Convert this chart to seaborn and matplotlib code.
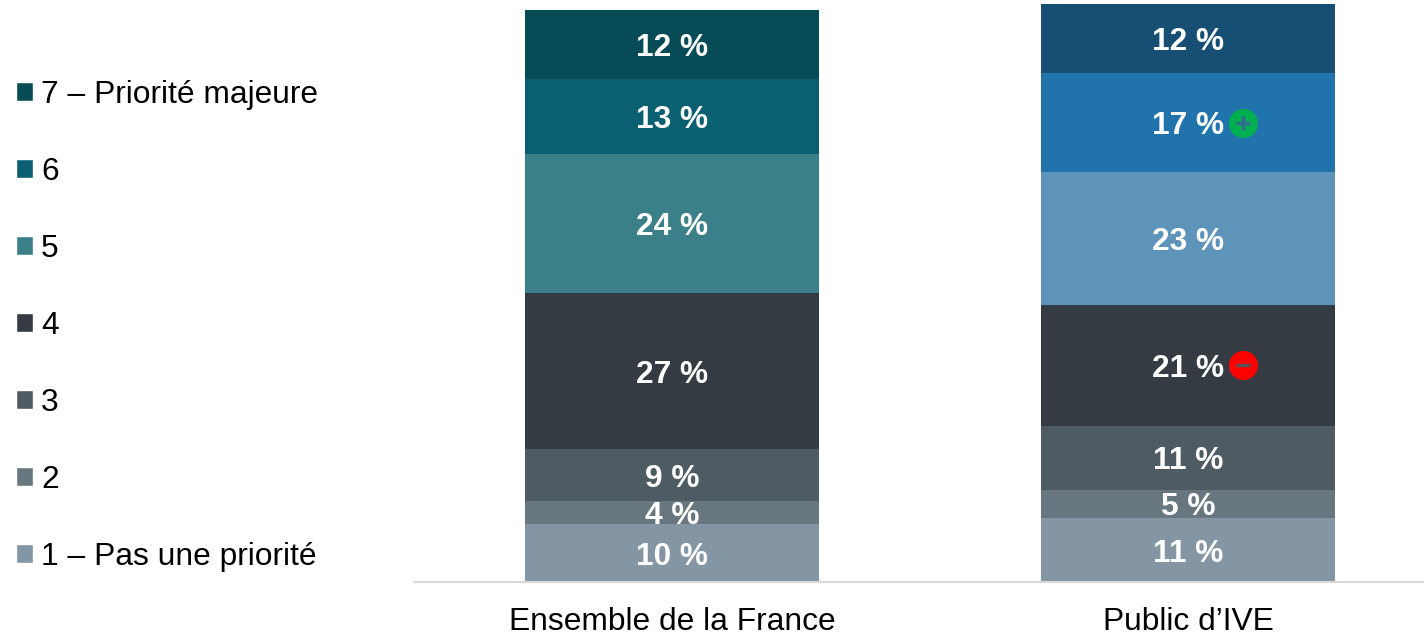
import pandas as pd
import matplotlib
matplotlib.use("Agg")
import matplotlib.pyplot as plt
import seaborn as sns
from matplotlib.patches import Patch

# Data, lowest level first
groups = ["Ensemble de la France", "Public d’IVE"]
levels = ["1 – Pas une priorité", "2", "3", "4", "5", "6", "7 – Priorité majeure"]
france_values = [10, 4, 9, 27, 24, 13, 12]
ive_values = [11, 5, 11, 21, 23, 17, 12]

france_colors = ["#8496A4", "#68777F", "#4F5B63", "#353B42", "#3B7F88", "#0A5F70", "#074B56"]
ive_colors = ["#8496A4", "#68777F", "#4F5B63", "#353B42", "#5E94B9", "#2073AB", "#164E74"]

# Significance badges: group, level, sign
badges = [("Public d’IVE", "6", "+"), ("Public d’IVE", "4", "-")]

sns.set_theme(style="white")
plt.rcParams["font.family"] = ["Liberation Sans", "DejaVu Sans"]

# Build long table with the cumulative top of every segment
df = pd.DataFrame({
    "group": [groups[0]] * len(levels) + [groups[1]] * len(levels),
    "level": levels * 2,
    "value": france_values + ive_values,
})
df["top"] = df.groupby("group")["value"].cumsum()
df["middle"] = df["top"] - df["value"] / 2

fig = plt.figure(figsize=(14.24, 6.35), dpi=100)
ax = fig.add_axes([414 / 1424, 53 / 635, 1010 / 1424, 582 / 635])

# Stack by overdrawing cumulative bars, tallest first
for i in reversed(range(len(levels))):
    sub = df[df["level"] == levels[i]]
    sns.barplot(
        data=sub, x="group", y="top", hue="group", order=groups, hue_order=groups,
        palette={groups[0]: france_colors[i], groups[1]: ive_colors[i]},
        dodge=False, width=0.57, saturation=1, legend=False, linewidth=0, ax=ax,
    )

ax.set_xlim(-0.5, 1.457)
ax.set_ylim(0, 100.7)
ax.set_xlabel("")
ax.set_ylabel("")
ax.set_yticks([])
ax.tick_params(axis="x", length=0, pad=18, labelsize=22.9, labelcolor="black")

sns.despine(ax=ax, left=True)
ax.spines["bottom"].set_color("#D9D9D9")
ax.spines["bottom"].set_linewidth(1.5)

# Value labels
for _, row in df.iterrows():
    ax.annotate(
        f"{row['value']} %", (groups.index(row["group"]), row["middle"]),
        xytext=(0, -2.5), textcoords="offset points", ha="center", va="center",
        color="white", fontsize=22.8, fontweight="bold",
    )

# Plus and minus badges beside the labels
for group, level, sign in badges:
    row = df[(df["group"] == group) & (df["level"] == level)].iloc[0]
    x = groups.index(group) + 55 / 516
    y = row["middle"]
    ax.scatter([x], [y], s=440, color="#00B050" if sign == "+" else "#FF0000", linewidths=0, zorder=5)
    ax.scatter([x], [y], s=110, marker="+" if sign == "+" else "_",
               color="#2F6F8F" if sign == "+" else "#5A5055", linewidths=2.5, zorder=6)

# Legend, top level first
handles = [Patch(facecolor=c, label=l) for c, l in zip(france_colors[::-1], levels[::-1])]
fig.legend(
    handles=handles, loc="upper left", bbox_to_anchor=(3 / 1424, 1 - 67 / 635),
    frameon=False, fontsize=22.9, labelcolor="black", handlelength=0.54, handleheight=0.54,
    handletextpad=0.26, labelspacing=1.48, borderpad=0.4, borderaxespad=0,
)

fig.savefig("out.png", dpi=100)
plt.close(fig)
